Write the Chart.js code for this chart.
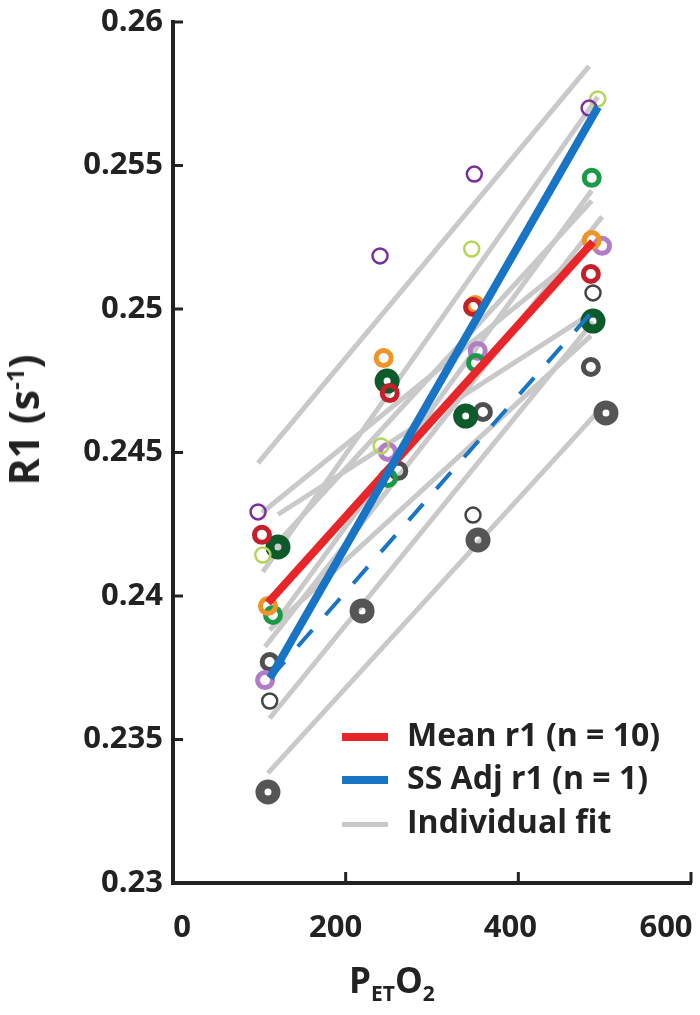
<!DOCTYPE html>
<html>
<head>
<meta charset="utf-8">
<script src="https://cdn.jsdelivr.net/npm/chart.js@4.4.1/dist/chart.umd.min.js"></script>
<style>
  body { margin: 0; background: #fff; }
  #wrap { position: relative; width: 700px; height: 1015px; font-family: "Open Sans", sans-serif; color: #222; }
  #ytitle { position: absolute; left: 23px; top: 420px; transform: translate(-50%, -50%) rotate(-90deg); font-weight: bold; font-size: 41px; white-space: nowrap; }
  #ytitle sup { font-size: 24px; }
  #xtitle { position: absolute; left: 349px; top: 956px; font-weight: bold; font-size: 35px; white-space: nowrap; }
  #xtitle sub { font-size: 21px; }
  .leg { position: absolute; left: 342px; font-weight: bold; font-size: 32px; white-space: nowrap; }
  .leg span { display: inline-block; width: 46px; vertical-align: middle; margin-right: 19px; }
</style>
</head>
<body>
<div id="wrap">
  <canvas id="c" width="700" height="1015"></canvas>
  <div id="ytitle">R1 (s<sup>-1</sup>)</div>
  <div id="xtitle">P<sub>ET</sub>O<sub>2</sub></div>
  <div class="leg" style="top:712px"><span style="height:8px;background:#e8262a"></span>Mean r1 (n = 10)</div>
  <div class="leg" style="top:755px"><span style="height:8px;background:#1874c4"></span>SS Adj r1 (n = 1)</div>
  <div class="leg" style="top:799px"><span style="height:5px;background:#c8c8c8"></span>Individual fit</div>
</div>
<script>
// per-subject measurements (PetO2, R1)
const subjects = ["purple", "lime", "red", "darkgreen", "orange", "green", "orchid", "grayThin", "grayMed", "grayThick"];
const colors = ["#7b2f9e", "#b3d65a", "#c41f2a", "#0d5a2a", "#ef9428", "#1a9a48", "#b27dc8", "#444444", "#4f4f4f", "#555555"];
const ringWidth = [2.5, 2.5, 5, 9, 5, 5, 5, 2.5, 5, 9];

const petO2 = [
  [98.5, 239.8, 349, 482],
  [104, 241, 346, 492],
  [103, 251, 347.5, 484],
  [121.6, 248, 339, 486.5],
  [110, 244, 350, 485],
  [115.8, 249, 351, 485],
  [106.6, 249, 353, 497],
  [112, 347.5, 486.5],
  [112, 261, 359, 484],
  [110, 219, 353.3, 501.5]
];
const r1 = [
  [0.24293, 0.25185, 0.25470, 0.25700],
  [0.24143, 0.24523, 0.25209, 0.25732],
  [0.24213, 0.24707, 0.25007, 0.25122],
  [0.24171, 0.24749, 0.24627, 0.24958],
  [0.23965, 0.24829, 0.25014, 0.25240],
  [0.23934, 0.24411, 0.24812, 0.25457],
  [0.23707, 0.24502, 0.24854, 0.25220],
  [0.23634, 0.24282, 0.25056],
  [0.23770, 0.24436, 0.24641, 0.24798],
  [0.23317, 0.23948, 0.24195, 0.24638]
];

// individual fit lines, one per subject: [x start, x end], [y start, y end]
const fitX = [
  [98.5, 482], [104, 492], [103, 484], [121.6, 486.5], [110, 485],
  [115.8, 485], [106.6, 497], [112, 486.5], [112, 484], [110, 488.8]
];
const fitY = [
  [0.24463, 0.25846], [0.24084, 0.25739], [0.24290, 0.25221], [0.24284, 0.24989], [0.24149, 0.25377],
  [0.23895, 0.25413], [0.23823, 0.25322], [0.23574, 0.24955], [0.23882, 0.24907], [0.23383, 0.24631]
];

const meanX = [110, 486.5];
const meanY = [0.23976, 0.25234];
const ssX = [112.4, 492.3];
const ssY = [0.23714, 0.25704];
const ssDashX = [112.4, 485.3];
const ssDashY = [0.23714, 0.24990];

const xTicks = [0, 200, 400, 600];
const xTickShift = [9, -10, -8, -25]; // labels sit a little off their ticks in the original
const yTicks = [0.23, 0.235, 0.24, 0.245, 0.25, 0.255, 0.26];

const pts = (xs, ys) => xs.map((x, i) => ({ x: x, y: ys[i] }));

const datasets = [];
fitX.forEach((xs, i) => {
  datasets.push({
    data: pts(xs, fitY[i]), showLine: true, borderColor: "#c9c9c9",
    borderWidth: 5, pointRadius: 0, order: 3
  });
});
subjects.forEach((s, i) => {
  datasets.push({
    label: s, data: pts(petO2[i], r1[i]), showLine: false,
    pointRadius: ringWidth[i] > 6 ? 8 : 7.5, pointBorderWidth: ringWidth[i],
    pointBorderColor: colors[i], pointBackgroundColor: "rgba(0,0,0,0)", order: 2
  });
});
datasets.push({ data: pts(ssDashX, ssDashY), showLine: true, borderColor: "#1874c4", borderWidth: 4, borderDash: [22, 20], pointRadius: 0, order: 1 });
datasets.push({ data: pts(meanX, meanY), showLine: true, borderColor: "#e8262a", borderWidth: 8, pointRadius: 0, order: 1 });
datasets.push({ data: pts(ssX, ssY), showLine: true, borderColor: "#1874c4", borderWidth: 8, pointRadius: 0, order: 0 });

const tickFont = { family: "Open Sans", size: 31, weight: "bold" };

// tick marks pointing into the plot, and the x labels
const innerTicks = {
  id: "innerTicks",
  afterDraw(chart) {
    const ctx = chart.ctx, x = chart.scales.x, y = chart.scales.y;
    ctx.save();
    ctx.strokeStyle = "#222";
    ctx.lineWidth = 3;
    yTicks.forEach(v => {
      const py = y.getPixelForValue(v);
      ctx.beginPath(); ctx.moveTo(x.left, py); ctx.lineTo(x.left + 10, py); ctx.stroke();
    });
    ctx.fillStyle = "#222";
    ctx.font = "bold 31px 'Open Sans'";
    ctx.textAlign = "center";
    ctx.textBaseline = "middle";
    xTicks.forEach((v, i) => {
      const px = x.getPixelForValue(v);
      ctx.beginPath(); ctx.moveTo(px, y.bottom); ctx.lineTo(px, y.bottom - 11); ctx.stroke();
      ctx.fillText(String(v), px + xTickShift[i], y.bottom + 45);
    });
    ctx.restore();
  }
};

new Chart(document.getElementById("c"), {
  type: "scatter",
  data: { datasets: datasets },
  plugins: [innerTicks],
  options: {
    responsive: false,
    animation: false,
    devicePixelRatio: 1,
    layout: { autoPadding: false, padding: { top: 22, right: 9, left: 0, bottom: 0 } },
    plugins: { legend: { display: false }, tooltip: { enabled: false } },
    scales: {
      x: {
        type: "linear", min: 0, max: 600,
        afterBuildTicks: s => { s.ticks = xTicks.map(v => ({ value: v })); },
        afterFit: s => { s.height = 132; s.paddingLeft = 0; s.paddingRight = 0; },
        grid: { display: true, drawOnChartArea: false, drawTicks: false },
        border: { color: "#222", width: 4 },
        ticks: { display: false }
      },
      y: {
        type: "linear", min: 0.23, max: 0.26,
        afterBuildTicks: s => { s.ticks = yTicks.map(v => ({ value: v })); },
        afterFit: s => { s.width = 173; s.paddingTop = 0; s.paddingBottom = 0; },
        grid: { display: true, drawOnChartArea: false, drawTicks: false },
        border: { color: "#222", width: 4 },
        ticks: { font: tickFont, color: "#222", padding: 10, callback: v => String(parseFloat(v.toFixed(3))) }
      }
    }
  }
});
</script>
</body>
</html>
